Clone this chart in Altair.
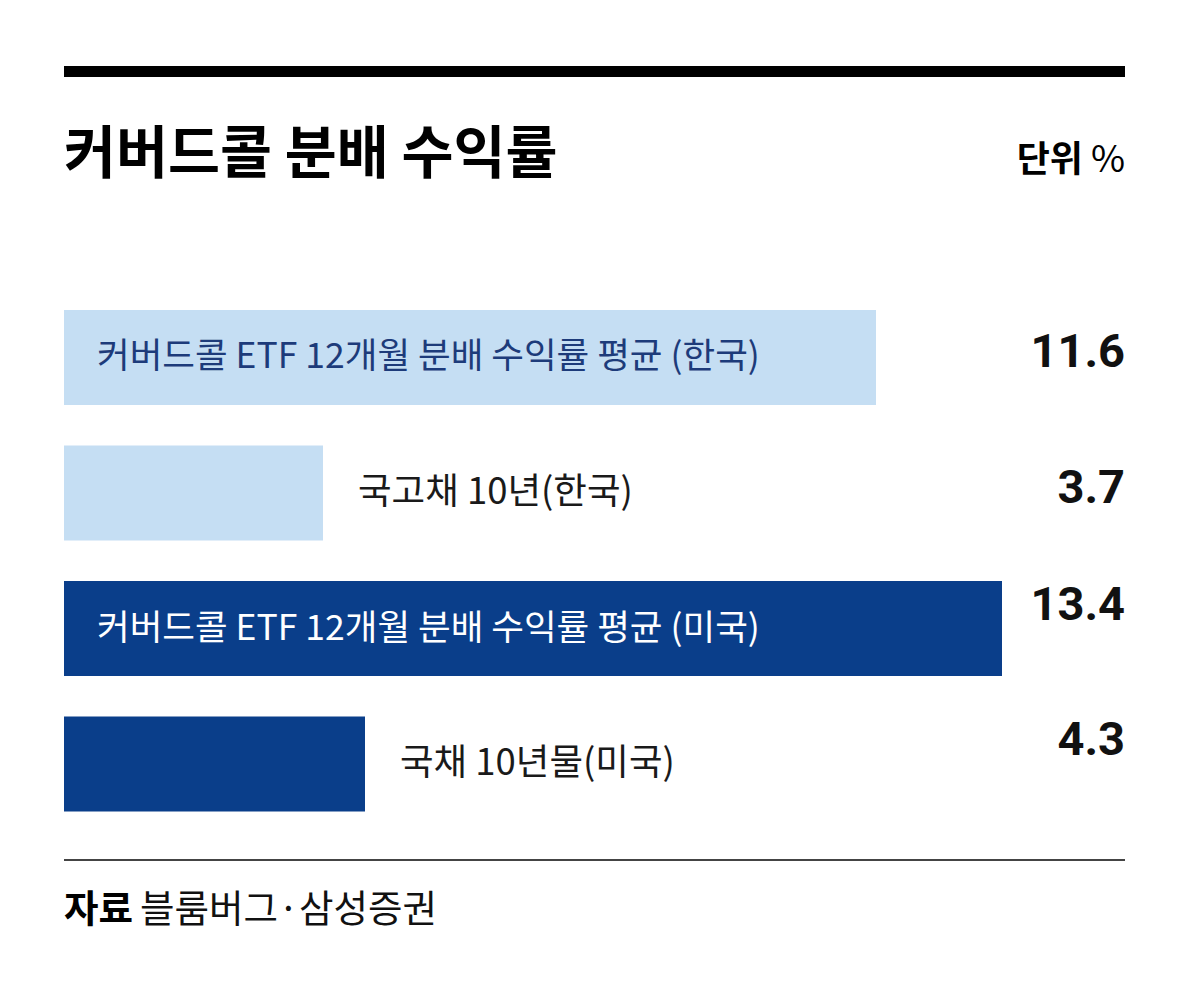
import altair as alt
import pandas as pd

# data
labels = [
    "커버드콜 ETF 12개월 분배 수익률 평균 (한국)",
    "국고채 10년(한국)",
    "커버드콜 ETF 12개월 분배 수익률 평균 (미국)",
    "국채 10년물(미국)",
]
values = [11.6, 3.7, 13.4, 4.3]
countries = ["한국", "한국", "미국", "미국"]

title_text = "커버드콜 분배 수익률"
unit_text = "단위"
source_head = "자료"
source_text = "블룸버그·삼성증권"

LIGHT = "#c5def3"
DARK = "#0a3e8a"
KR = "Noto Sans CJK KR"

df = pd.DataFrame({"label": labels, "value": values, "country": countries})
df["text"] = df["value"].map(lambda v: f"{v:.1f}")
df["zero"] = 0.0

one = pd.DataFrame({"t": [0]})

x_scale = alt.Scale(domain=[0, 13.4], range=[56, 994], nice=False)
y_scale = alt.Scale(domain=labels, range=[302, 803.5], paddingInner=0.3, paddingOuter=0)

base = alt.Chart(df)
X = alt.X("value:Q", scale=x_scale, axis=None)
Y = alt.Y("label:N", scale=y_scale, axis=None)

bars = base.mark_bar().encode(
    x=X,
    y=Y,
    color=alt.Color("country:N",
                    scale=alt.Scale(domain=["한국", "미국"], range=[LIGHT, DARK]),
                    legend=None),
)

# long labels sit inside the bar, short ones right after it
inside = base.transform_filter(alt.datum.value > 8).mark_text(
    align="left", baseline="middle", dx=33, font=KR, fontSize=35.5
).encode(
    x=alt.X("zero:Q", scale=x_scale, axis=None),
    y=Y,
    text="label:N",
    color=alt.condition(alt.datum.country == "미국", alt.value("white"), alt.value("#1d3b7a")),
)

outside = base.transform_filter(alt.datum.value <= 8).mark_text(
    align="left", baseline="middle", dx=35, font=KR, fontSize=36.5, color="#1a1a1a"
).encode(x=X, y=Y, text="label:N")

val_kr = base.transform_filter(alt.datum.country == "한국").mark_text(
    align="right", baseline="middle", dy=-4, font="Roboto", fontWeight="bold",
    fontSize=47, color="#111"
).encode(x=alt.value(1117), y=Y, text="text:N")

val_us = base.transform_filter(alt.datum.country == "미국").mark_text(
    align="right", baseline="middle", dy=-23, font="Roboto", fontWeight="bold",
    fontSize=47, color="#111"
).encode(x=alt.value(1117), y=Y, text="text:N")

deco = alt.Chart(one)

top_rule = deco.mark_rule(color="black", strokeWidth=11).encode(
    x=alt.value(56), x2=alt.value(1117), y=alt.value(63.5)
)
bottom_rule = deco.mark_rule(color="#444", strokeWidth=2).encode(
    x=alt.value(56), x2=alt.value(1117), y=alt.value(852)
)
title = deco.mark_text(
    align="left", baseline="middle", font=KR, fontWeight="bold", fontSize=56.5, color="black",
    text=title_text
).encode(x=alt.value(56), y=alt.value(148))
unit = deco.mark_text(
    align="right", baseline="middle", font=KR, fontWeight="bold", fontSize=36, color="black",
    text=unit_text
).encode(x=alt.value(1075), y=alt.value(153))
pct = deco.mark_text(
    align="right", baseline="middle", font=KR, fontSize=37, color="black", text="%"
).encode(x=alt.value(1117), y=alt.value(153))
src_head = deco.mark_text(
    align="left", baseline="middle", font=KR, fontWeight="bold", fontSize=37.5, color="black",
    text=source_head
).encode(x=alt.value(56), y=alt.value(903))
src = deco.mark_text(
    align="left", baseline="middle", font=KR, fontSize=37.5, color="#111", text=source_text
).encode(x=alt.value(132), y=alt.value(903))

chart = alt.layer(
    bars, inside, outside, val_kr, val_us,
    top_rule, bottom_rule, title, unit, pct, src_head, src,
).properties(
    width=1184, height=968, padding=0,
    autosize=alt.AutoSizeParams(type="none"),
).configure_view(stroke=None)

chart.save("out.html", embed_options={"renderer": "svg", "actions": False})
